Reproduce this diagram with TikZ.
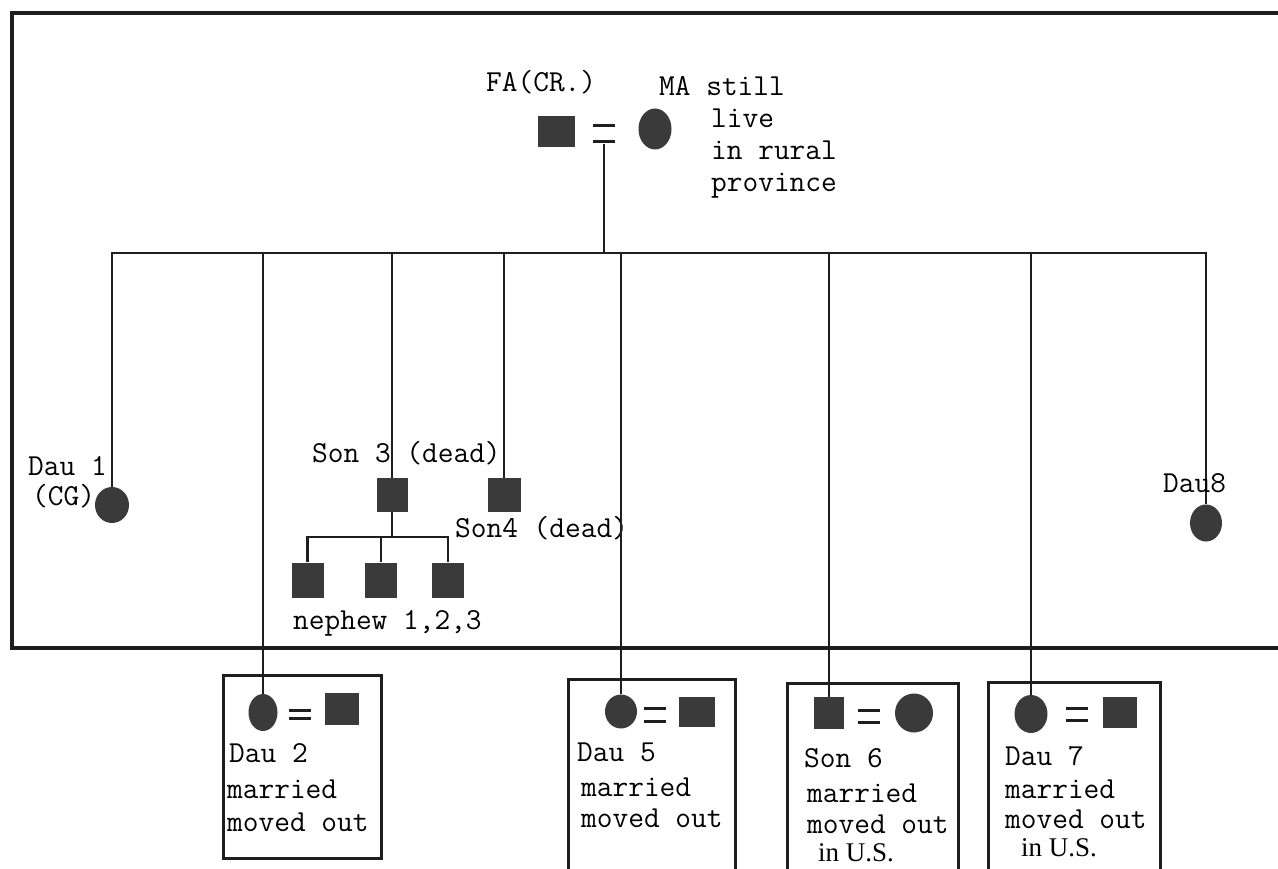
\documentclass[tikz,border=0pt]{standalone}
\usepackage{fontspec}
\newfontfamily\timesf{Liberation Serif}
\usetikzlibrary{shapes.geometric}
\definecolor{symfill}{HTML}{3A3A3A}
\definecolor{linec}{HTML}{1E1E1E}
\newcommand\lblfont{\fontsize{30.5}{36}\selectfont\ttfamily}
\newcommand\rmlblfont{\fontsize{27}{32}\selectfont\timesf}
\begin{document}
\begin{tikzpicture}[x=1pt,y=-1pt,
  link/.style={draw=linec, line width=2.8pt},
  frame/.style={draw=linec, line width=3.4pt},
  box/.style={draw=linec, line width=3pt},
  male/.style={rectangle, fill=symfill, inner sep=0, minimum width=33pt, minimum height=32pt},
  female/.style={ellipse, fill=symfill, inner sep=0, minimum width=33pt, minimum height=37pt},
  marr/.style={inner sep=0, minimum width=22pt, minimum height=#1,
    path picture={\draw[line width=3pt, linec]
      ([yshift=-1.5pt]path picture bounding box.north west) -- ([yshift=-1.5pt]path picture bounding box.north east)
      ([yshift=1.5pt]path picture bounding box.south west) -- ([yshift=1.5pt]path picture bounding box.south east);}},
  lbl/.style={font=\lblfont, anchor=base west, inner sep=0},
  rmlbl/.style={font=\rmlblfont, anchor=base west, inner sep=0}]
\useasboundingbox (0,0) rectangle (1278,869);

% outer household frame (right side runs off the page)
\draw[frame] (1285,13) -- (12,13) -- (12,648) -- (1285,648);

% parents
\node[male, minimum width=37pt, minimum height=31pt] (fa) at (556.5,132) {};
\node[marr=19pt] (e0) at (604,134) {};
\node[female, minimum width=33pt, minimum height=41pt] (ma) at (655,129) {};
\node[lbl] (tfa) at (486,92) {FA(CR.)};
\node[lbl] (tma) at (659,96) {MA still};
\node[lbl] (tma2) at (711,128) {live};
\node[lbl] (tma3) at (711,160) {in rural};
\node[lbl] (tma4) at (711,192) {province};

\coordinate (bar) at (604,253);

% children
\node[female, minimum width=34pt, minimum height=36pt] (dau1) at (112,505) {};
\node[female, minimum width=29pt, minimum height=37pt] (dau2) at (263,712.5) {};
\node[male, minimum width=31pt, minimum height=34pt] (son3) at (392,495) {};
\node[male, minimum width=33pt, minimum height=34pt] (son4) at (504,495) {};
\node[female, minimum width=32pt, minimum height=34pt] (dau5) at (621,711.5) {};
\node[male, minimum width=30pt, minimum height=32pt] (son6) at (829,713) {};
\node[female, minimum width=33pt, minimum height=38pt] (dau7) at (1031,714) {};
\node[female, minimum width=32pt, minimum height=37pt] (dau8) at (1206,523) {};

\draw[link] (e0.south) -- (bar);
\draw[link] (dau1.north) -- (dau1 |- bar) -- (dau8 |- bar) -- (dau8.north);
\draw[link] (dau2.north) -- (dau2 |- bar);
\draw[link] (son3.north) -- (son3 |- bar);
\draw[link] (son4.north) -- (son4 |- bar);
\draw[link] (dau5.north) -- (dau5 |- bar);
\draw[link] (son6.north) -- (son6 |- bar);
\draw[link] (dau7.north) -- (dau7 |- bar);

% nephews
\node[male, minimum width=32pt, minimum height=35pt] (n1) at (307.5,580) {};
\node[male, minimum width=32pt, minimum height=35pt] (n2) at (381,580) {};
\node[male, minimum width=32pt, minimum height=35pt] (n3) at (448,580) {};
\coordinate (sib) at (392,537);
\draw[link] (son3.south) -- (sib);
\draw[link] (n1.north) -- (n1 |- sib) -- (n3 |- sib) -- (n3.north);
\draw[link] (n2.north) -- (n2 |- sib);

% labels inside frame
\node[lbl] (t1a) at (28,475) {Dau 1};
\node[lbl] (t1b) at (32,505) {(CG)};
\node[lbl] (t3) at (312,462) {Son 3 (dead)};
\node[lbl] (t4) at (455,537) {Son4 (dead)};
\node[lbl] (tn) at (293,629) {nephew 1,2,3};
\node[lbl] (t8) at (1163,492) {Dau8};

% line passes over the closing parenthesis as in the picture
\draw[link] (dau5 |- t4.north) -- (dau5 |- t4.south);

% box 1 : Dau 2
\draw[box] (223,675) rectangle (381,858);
\node[marr=11pt] (e2) at (300,714) {};
\node[male, minimum width=34pt, minimum height=32pt] (sp2) at (342,709) {};
\node[lbl] (t2a) at (229,762) {Dau 2};
\node[lbl] (t2b) at (227,798) {married};
\node[lbl] (t2c) at (227,831) {moved out};

% box 2 : Dau 5
\draw[box] (568,679) rectangle (735,885);
\node[marr=16pt] (e5) at (655,714.5) {};
\node[male, minimum width=36pt, minimum height=30pt] (sp5) at (697,711.5) {};
\node[lbl] (t5a) at (577,761) {Dau 5};
\node[lbl] (t5b) at (581,796) {married};
\node[lbl] (t5c) at (581,827) {moved out};

% box 3 : Son 6
\draw[box] (787,683) rectangle (958,885);
\node[marr=15pt] (e6) at (869,716) {};
\node[female, minimum width=38pt, minimum height=39pt] (sp6) at (914,713) {};
\node[lbl] (t6a) at (804,767) {Son 6};
\node[lbl] (t6b) at (807,802) {married};
\node[lbl] (t6c) at (807,833) {moved out};
\node[rmlbl] (t6d) at (818,861) {in U.S.};

% box 4 : Dau 7
\draw[box] (988,682) rectangle (1160,885);
\node[marr=15pt] (e7) at (1077,714) {};
\node[male, minimum width=34pt, minimum height=31pt] (sp7) at (1120,712.5) {};
\node[lbl] (t7a) at (1005,765) {Dau 7};
\node[lbl] (t7b) at (1005,798) {married};
\node[lbl] (t7c) at (1005,828) {moved out};
\node[rmlbl] (t7d) at (1021,856) {in U.S.};
\end{tikzpicture}
\end{document}
